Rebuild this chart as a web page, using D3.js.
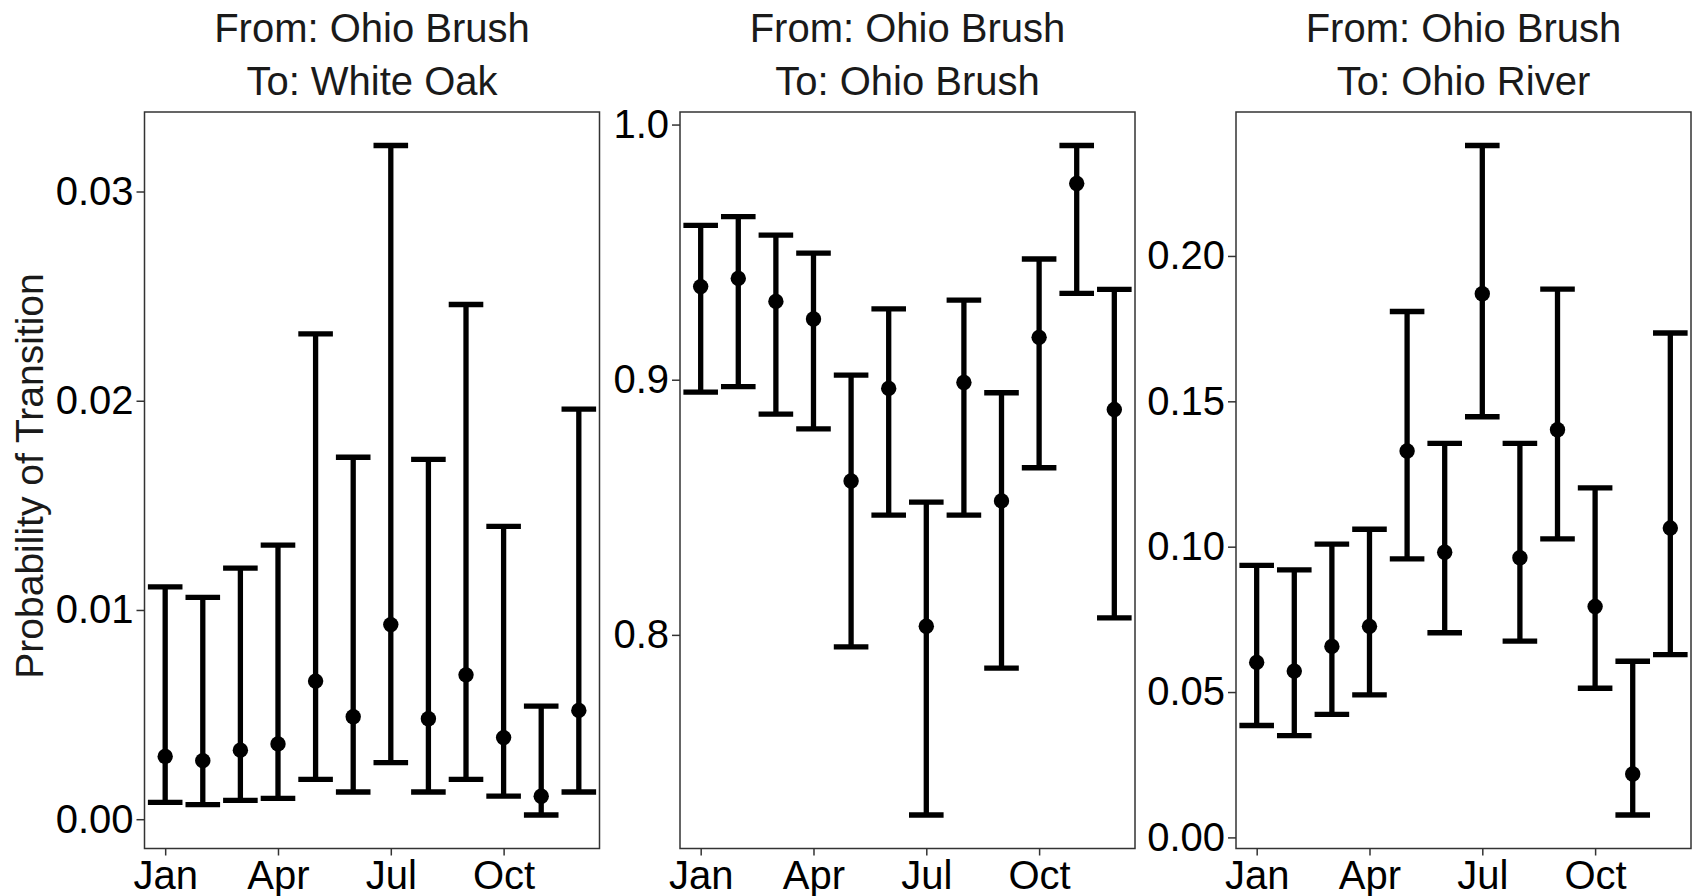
<!DOCTYPE html>
<html>
<head>
<meta charset="utf-8">
<script src="https://cdn.jsdelivr.net/npm/d3@7"></script>
<style>
  body { margin: 0; background: #ffffff; }
  text { font-family: "Liberation Sans", Arial, sans-serif; }
</style>
</head>
<body>
<svg id="chart" width="1694" height="896"></svg>
<script>
// Months as numbers (1 = Jan ... 12 = Dec)
const months = [1, 2, 3, 4, 5, 6, 7, 8, 9, 10, 11, 12];
const monthTicks = [1, 4, 7, 10];
const monthTickLabels = ["Jan", "Apr", "Jul", "Oct"];

// From: Ohio Brush -> To: White Oak
const whiteOakEst   = [0.0030, 0.0028, 0.0033, 0.0036, 0.0066, 0.0049, 0.0093, 0.0048, 0.0069, 0.0039, 0.0011, 0.0052];
const whiteOakLower = [0.0008, 0.0007, 0.0009, 0.0010, 0.0019, 0.0013, 0.0027, 0.0013, 0.0019, 0.0011, 0.0002, 0.0013];
const whiteOakUpper = [0.0111, 0.0106, 0.0120, 0.0131, 0.0232, 0.0173, 0.0322, 0.0172, 0.0246, 0.0140, 0.0054, 0.0196];
const whiteOakTicks = [0.00, 0.01, 0.02, 0.03];

// From: Ohio Brush -> To: Ohio Brush
const brushEst   = [0.9365, 0.9397, 0.9307, 0.9238, 0.8603, 0.8966, 0.8034, 0.8989, 0.8525, 0.9166, 0.9769, 0.8883];
const brushLower = [0.8951, 0.8973, 0.8865, 0.8807, 0.7953, 0.8469, 0.7294, 0.8469, 0.7870, 0.8655, 0.9338, 0.8067];
const brushUpper = [0.9605, 0.9639, 0.9567, 0.9496, 0.9018, 0.9278, 0.8520, 0.9312, 0.8949, 0.9473, 0.9918, 0.9354];
const brushTicks = [0.8, 0.9, 1.0];

// From: Ohio Brush -> To: Ohio River
const riverEst   = [0.0602, 0.0572, 0.0657, 0.0726, 0.1329, 0.0981, 0.1870, 0.0962, 0.1402, 0.0794, 0.0218, 0.1064];
const riverLower = [0.0385, 0.0350, 0.0423, 0.0490, 0.0958, 0.0704, 0.1447, 0.0675, 0.1027, 0.0513, 0.0077, 0.0629];
const riverUpper = [0.0936, 0.0920, 0.1009, 0.1060, 0.1809, 0.1355, 0.2380, 0.1355, 0.1886, 0.1202, 0.0606, 0.1735];
const riverTicks = [0.00, 0.05, 0.10, 0.15, 0.20];

const fromLabel = "From: Ohio Brush";
const toLabels = ["To: White Oak", "To: Ohio Brush", "To: Ohio River"];
const yTitle = "Probability of Transition";

const panels = [
  { to: toLabels[0], est: whiteOakEst, lower: whiteOakLower, upper: whiteOakUpper, ticks: whiteOakTicks, fmt: d3.format(".2f"), left: 144.5 },
  { to: toLabels[1], est: brushEst,    lower: brushLower,    upper: brushUpper,    ticks: brushTicks,    fmt: d3.format(".1f"), left: 680 },
  { to: toLabels[2], est: riverEst,    lower: riverLower,    upper: riverUpper,    ticks: riverTicks,    fmt: d3.format(".2f"), left: 1236 }
];

const panelWidth = 455;
const plotTop = 112, plotBottom = 848.5;
const fontSize = 40;
const ink = "#000000";
const frame = "#333333";

const svg = d3.select("#chart");

// expand a numeric extent by 5% on each side
function expand(lo, hi) {
  const pad = (hi - lo) * 0.05;
  return [lo - pad, hi + pad];
}

panels.forEach(p => {
  const x = d3.scaleLinear()
    .domain(expand(d3.min(months), d3.max(months)))
    .range([p.left, p.left + panelWidth]);
  const y = d3.scaleLinear()
    .domain(expand(d3.min(p.lower), d3.max(p.upper)))
    .range([plotBottom, plotTop]);

  const g = svg.append("g");

  // panel frame
  g.append("rect")
    .attr("x", p.left).attr("y", plotTop)
    .attr("width", panelWidth).attr("height", plotBottom - plotTop)
    .attr("fill", "none").attr("stroke", frame).attr("stroke-width", 1.5);

  // y axis
  const yAxis = g.append("g")
    .attr("transform", `translate(${p.left},0)`)
    .call(d3.axisLeft(y).tickValues(p.ticks).tickFormat(p.fmt).tickSize(8).tickPadding(3).tickSizeOuter(0));
  yAxis.select(".domain").remove();
  yAxis.selectAll(".tick line").attr("stroke", frame).attr("stroke-width", 1.5);
  yAxis.selectAll(".tick text").attr("fill", ink).style("font-size", fontSize + "px");

  // x axis
  const xAxis = g.append("g")
    .attr("transform", `translate(0,${plotBottom})`)
    .call(d3.axisBottom(x).tickValues(monthTicks)
      .tickFormat((d, i) => monthTickLabels[i]).tickSize(7).tickPadding(5).tickSizeOuter(0));
  xAxis.select(".domain").remove();
  xAxis.selectAll(".tick line").attr("stroke", frame).attr("stroke-width", 1.5);
  xAxis.selectAll(".tick text").attr("fill", ink).style("font-size", fontSize + "px");

  // titles
  const cx = p.left + panelWidth / 2;
  g.append("text").attr("x", cx).attr("y", 41.7).attr("text-anchor", "middle")
    .attr("fill", "#1a1a1a").style("font-size", fontSize + "px").text(fromLabel);
  g.append("text").attr("x", cx).attr("y", 95).attr("text-anchor", "middle")
    .attr("fill", "#1a1a1a").style("font-size", fontSize + "px").text(p.to);

  // error bars and point estimates
  const capHalf = (x(2) - x(1)) * 0.46;
  const rows = months.map((m, i) => ({ m, est: p.est[i], lo: p.lower[i], hi: p.upper[i] }));
  const bars = g.append("g").attr("stroke", ink).attr("stroke-width", 5.3).attr("fill", "none");
  bars.selectAll("line.v").data(rows).join("line").attr("class", "v")
    .attr("x1", d => x(d.m)).attr("x2", d => x(d.m))
    .attr("y1", d => y(d.lo)).attr("y2", d => y(d.hi));
  bars.selectAll("line.capHi").data(rows).join("line").attr("class", "capHi")
    .attr("x1", d => x(d.m) - capHalf).attr("x2", d => x(d.m) + capHalf)
    .attr("y1", d => y(d.hi)).attr("y2", d => y(d.hi));
  bars.selectAll("line.capLo").data(rows).join("line").attr("class", "capLo")
    .attr("x1", d => x(d.m) - capHalf).attr("x2", d => x(d.m) + capHalf)
    .attr("y1", d => y(d.lo)).attr("y2", d => y(d.lo));
  g.append("g").selectAll("circle").data(rows).join("circle")
    .attr("cx", d => x(d.m)).attr("cy", d => y(d.est)).attr("r", 7.7).attr("fill", ink);
});

// shared y-axis title
svg.append("text")
  .attr("transform", "translate(43.3,476) rotate(-90)")
  .attr("text-anchor", "middle")
  .attr("fill", "#1a1a1a")
  .style("font-size", "39px")
  .text(yTitle);
</script>
</body>
</html>
